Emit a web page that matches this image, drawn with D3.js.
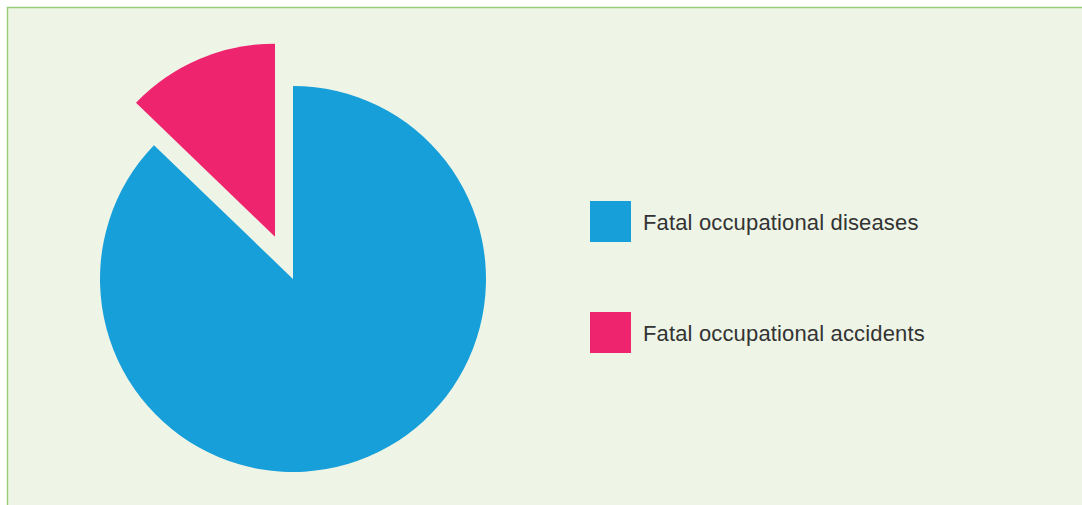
<!DOCTYPE html>
<html>
<head>
<meta charset="utf-8">
<script src="https://cdn.jsdelivr.net/npm/d3@7"></script>
<style>
  body { margin: 0; background: #fff; }
</style>
</head>
<body>
<div class="canvas"></div>
<script>
// data
const categories = ['Fatal occupational diseases', 'Fatal occupational accidents'];
const shares = [87.2, 12.8];
const colours = ['#179fda', '#ee246f'];

const width = 1082, height = 505;

const svg = d3.select('.canvas')
  .append('svg')
    .attr('width', width)
    .attr('height', height);

// panel background with green top/left rule
svg.append('rect')
  .attr('x', 7).attr('y', 7)
  .attr('width', width - 7).attr('height', height - 7)
  .attr('fill', '#eef5e7');

svg.append('line')
  .attr('x1', 7).attr('y1', 7.5).attr('x2', width).attr('y2', 7.5)
  .attr('stroke', '#98cc78').attr('stroke-width', 1.4);
svg.append('line')
  .attr('x1', 7.5).attr('y1', 7).attr('x2', 7.5).attr('y2', height)
  .attr('stroke', '#98cc78').attr('stroke-width', 1.4);

// pie
const radius = 193;
const explode = 46;

const graph = svg.append('g')
  .attr('transform', 'translate(293,279)');

const pie = d3.pie().sort(null).value(d => d);
const arc = d3.arc().innerRadius(0).outerRadius(radius);

graph.selectAll('path')
  .data(pie(shares))
  .enter()
  .append('path')
    .attr('d', arc)
    .attr('fill', (d, i) => colours[i])
    .attr('transform', (d, i) => {
      if (i !== 1) return null;
      const mid = (d.startAngle + d.endAngle) / 2;
      return `translate(${Math.sin(mid) * explode},${-Math.cos(mid) * explode})`;
    });

// legend
const legend = svg.append('g')
  .attr('transform', 'translate(590,201)');

const items = legend.selectAll('g')
  .data(categories)
  .enter()
  .append('g')
    .attr('transform', (d, i) => `translate(0,${i * 111})`);

items.append('rect')
  .attr('width', 41)
  .attr('height', 41)
  .attr('fill', (d, i) => colours[i]);

items.append('text')
  .attr('x', 53)
  .attr('y', 29)
  .attr('font-family', '"Liberation Sans", Arial, sans-serif')
  .attr('font-size', 22)
  .attr('letter-spacing', 0.15)
  .attr('fill', '#333333')
  .text(d => d);
</script>
</body>
</html>
